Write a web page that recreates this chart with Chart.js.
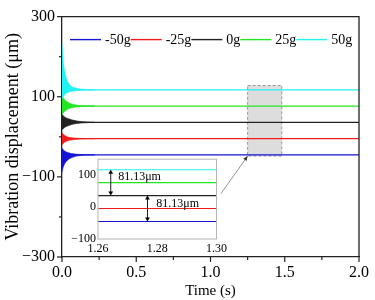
<!DOCTYPE html>
<html>
<head>
<meta charset="utf-8">
<script src="https://cdn.jsdelivr.net/npm/chart.js@4.4.1/dist/chart.umd.min.js"></script>
<style>
  html, body { margin: 0; padding: 0; background: #fff; }
  #wrap { position: relative; width: 375px; height: 300px; }
  #main { position: absolute; left: 0; top: 0; }
  #inset { position: absolute; left: 66px; top: 150px; }
</style>
</head>
<body>
<div id="wrap">
  <canvas id="main" width="375" height="300"></canvas>
  <canvas id="inset" width="164" height="108"></canvas>
</div>
<script>
// series
const labels = ['-50g', '-25g', '0g', '25g', '50g'];
const colors = ['#1414d2', '#f01c1c', '#222222', '#22e622', '#22f2f2'];
const steady = [-45.13, -4.57, 36.0, 76.57, 117.13];
const lineT = [0, 2.0];

// transient envelope (start-up oscillation)
const envT = [0, 0.005, 0.01, 0.02, 0.03, 0.045, 0.06, 0.08, 0.1, 0.13, 0.17, 0.22];
const upN50 = [-28, -31, -33, -36, -38, -40, -41.5, -42.5, -43.5, -44.2, -44.7, -45];
const loN50 = [-88, -80, -74, -66, -61, -56, -53, -50, -48, -46.5, -45.7, -45.3];
const upN25 = [10, 8, 6, 3, 1, -1, -2, -3, -3.6, -4, -4.3, -4.5];
const loN25 = [-20, -18, -16, -13, -11, -9, -8, -7, -6, -5.3, -4.9, -4.7];
const upZero = [56, 54, 52, 49, 47, 45, 43, 41, 39.5, 38, 37, 36.4];
const loZero = [18, 19, 21, 24, 26, 28, 30, 32, 33, 34.3, 35.2, 35.7];
const upP25 = [105, 100, 97, 92, 89, 85, 82.5, 80.5, 79, 78, 77.2, 76.8];
const loP25 = [55, 58, 60, 64, 67, 70, 72, 73.5, 74.5, 75.5, 76.1, 76.4];
const upP50 = [232, 205, 184, 160, 145, 133, 127, 123, 121, 119, 118, 117.3];
const loP50 = [95, 98, 101, 106, 109, 111.5, 113, 114.5, 115.5, 116.3, 116.8, 117.0];
const envUp = [upN50, upN25, upZero, upP25, upP50];
const envLo = [loN50, loN25, loZero, loP25, loP50];

// inset
const insetT = [1.26, 1.30];
const insetYTicks = [-100, 0, 100];
const gapText = '81.13\u03bcm';

const serif = '"Liberation Serif", "Times New Roman", serif';
const minus = s => String(s).replace('-', '\u2212');

const mainSets = [];
labels.forEach((name, i) => {
  const ord = 4 - i; // last series on top
  mainSets.push({ label: name, data: lineT.map(t => ({ x: t, y: steady[i] })),
    borderColor: colors[i], borderWidth: 1.4, pointRadius: 0, order: ord });
  mainSets.push({ label: name + ' up', data: envT.map((t, k) => ({ x: t, y: envUp[i][k] })),
    borderColor: colors[i], backgroundColor: colors[i], borderWidth: 0.6, pointRadius: 0,
    fill: '+1', order: ord, cubicInterpolationMode: 'monotone' });
  mainSets.push({ label: name + ' lo', data: envT.map((t, k) => ({ x: t, y: envLo[i][k] })),
    borderColor: colors[i], borderWidth: 0.6, pointRadius: 0,
    fill: false, order: ord, cubicInterpolationMode: 'monotone' });
});

function arrowHead(ctx, x, y, dir, size) {
  ctx.beginPath();
  ctx.moveTo(x, y);
  ctx.lineTo(x - size * 0.6, y - dir * size);
  ctx.lineTo(x + size * 0.6, y - dir * size);
  ctx.closePath();
  ctx.fill();
}

const mainDecor = {
  id: 'mainDecor',
  beforeDatasetsDraw(chart) {
    const { ctx, scales: { x, y } } = chart;
    // zoom window
    const x0 = x.getPixelForValue(1.25), x1 = x.getPixelForValue(1.48);
    const y0 = y.getPixelForValue(128), y1 = y.getPixelForValue(-48);
    ctx.save();
    ctx.fillStyle = '#dddddd';
    ctx.fillRect(x0, y0, x1 - x0, y1 - y0);
    ctx.setLineDash([3, 2]);
    ctx.strokeStyle = '#999';
    ctx.lineWidth = 1;
    ctx.strokeRect(x0, y0, x1 - x0, y1 - y0);
    ctx.restore();
  },
  afterDraw(chart) {
    const { ctx, chartArea: a, scales: { x, y } } = chart;
    ctx.save();
    // frame top / right
    ctx.strokeStyle = '#222';
    ctx.lineWidth = 1.3;
    ctx.beginPath();
    ctx.moveTo(a.left, a.top); ctx.lineTo(a.right, a.top); ctx.lineTo(a.right, a.bottom);
    ctx.stroke();
    // ticks, outward
    ctx.lineWidth = 1.2;
    for (let v = 0; v <= 2.0001; v += 0.25) {
      const px = x.getPixelForValue(v);
      const len = Math.abs(v * 2 - Math.round(v * 2)) < 1e-6 ? 5 : 3;
      ctx.beginPath(); ctx.moveTo(px, a.bottom); ctx.lineTo(px, a.bottom + len); ctx.stroke();
    }
    for (let v = -300; v <= 300; v += 100) {
      const py = y.getPixelForValue(v);
      const len = (v + 300) % 200 === 0 ? 5 : 3;
      ctx.beginPath(); ctx.moveTo(a.left, py); ctx.lineTo(a.left - len, py); ctx.stroke();
    }
    // connector from inset to zoom window
    const sx = x.getPixelForValue(1.07), sy = y.getPixelForValue(-142);
    const ex = x.getPixelForValue(1.25), ey = y.getPixelForValue(-48);
    ctx.strokeStyle = '#777';
    ctx.fillStyle = '#333';
    ctx.lineWidth = 0.8;
    ctx.beginPath(); ctx.moveTo(sx, sy); ctx.lineTo(ex, ey); ctx.stroke();
    const ang = Math.atan2(ey - sy, ex - sx);
    ctx.beginPath();
    ctx.moveTo(ex, ey);
    ctx.lineTo(ex - 5 * Math.cos(ang - 0.4), ey - 5 * Math.sin(ang - 0.4));
    ctx.lineTo(ex - 5 * Math.cos(ang + 0.4), ey - 5 * Math.sin(ang + 0.4));
    ctx.closePath(); ctx.fill();
    // legend inside plot
    ctx.font = '14px ' + serif;
    ctx.textBaseline = 'middle';
    let lx = a.left + 8;
    const ly = a.top + 23;
    labels.forEach((name, i) => {
      ctx.strokeStyle = colors[i];
      ctx.lineWidth = 1.4;
      ctx.beginPath(); ctx.moveTo(lx, ly); ctx.lineTo(lx + 31, ly); ctx.stroke();
      lx += 35;
      ctx.fillStyle = '#000';
      ctx.fillText(name, lx, ly + 1);
      lx += ctx.measureText(name).width;
    });
    ctx.restore();
  }
};

new Chart(document.getElementById('main'), {
  type: 'line',
  data: { datasets: mainSets },
  options: {
    responsive: false,
    animation: false,
    layout: { padding: { top: 15, right: 12, left: 0, bottom: 0 } },
    plugins: { legend: { display: false }, tooltip: { enabled: false } },
    scales: {
      x: {
        type: 'linear', min: 0, max: 2,
        grid: { display: false, drawTicks: false },
        border: { color: '#222', width: 1.3 },
        ticks: { stepSize: 0.5, padding: 6, color: '#000', font: { family: serif, size: 16 },
          maxRotation: 0, callback: v => v.toFixed(1) },
        title: { display: true, text: 'Time (s)', color: '#000', padding: 0,
          font: { family: serif, size: 15 } },
        afterFit: s => { s.height = 43; }
      },
      y: {
        min: -300, max: 300,
        grid: { display: false, drawTicks: false },
        border: { color: '#222', width: 1.3 },
        ticks: { stepSize: 200, padding: 7, color: '#000', font: { family: serif, size: 16 },
          callback: v => minus(v) },
        title: { display: true, text: 'Vibration displacement (\u03bcm)', color: '#000',
          padding: { top: 2, bottom: 0 }, font: { family: serif, size: 18 } },
        afterFit: s => { s.width = 62; }
      }
    }
  },
  plugins: [mainDecor]
});

// inset chart
const insetDecor = {
  id: 'insetDecor',
  beforeDraw(chart) {
    const { ctx, chartArea: a } = chart;
    ctx.save();
    ctx.fillStyle = '#fff';
    ctx.fillRect(a.left, a.top, a.right - a.left, a.bottom - a.top);
    ctx.restore();
  },
  afterDraw(chart) {
    const { ctx, chartArea: a, scales: { x, y } } = chart;
    ctx.save();
    ctx.strokeStyle = '#b4b4b4';
    ctx.lineWidth = 1;
    ctx.strokeRect(a.left, a.top, a.right - a.left, a.bottom - a.top);
    // gap arrows
    ctx.strokeStyle = '#000';
    ctx.fillStyle = '#000';
    ctx.lineWidth = 0.9;
    const arrows = [
      { t: 1.2643, from: steady[2], to: steady[4], tx: 1.2668, ty: 95 },
      { t: 1.2767, from: steady[2], to: steady[0], tx: 1.2797, ty: 11 }
    ];
    ctx.font = '12px ' + serif;
    ctx.textBaseline = 'middle';
    arrows.forEach(ar => {
      const px = x.getPixelForValue(ar.t);
      const p1 = y.getPixelForValue(ar.from), p2 = y.getPixelForValue(ar.to);
      const dir = p2 > p1 ? 1 : -1;
      ctx.beginPath(); ctx.moveTo(px, p1 + dir * 3); ctx.lineTo(px, p2 - dir * 3); ctx.stroke();
      arrowHead(ctx, px, p1, -dir, 4);
      arrowHead(ctx, px, p2, dir, 4);
      ctx.fillText(gapText, x.getPixelForValue(ar.tx), y.getPixelForValue(ar.ty));
    });
    ctx.restore();
  }
};

new Chart(document.getElementById('inset'), {
  type: 'line',
  data: {
    datasets: labels.map((name, i) => ({
      label: name, data: insetT.map(t => ({ x: t, y: steady[i] })),
      borderColor: colors[i], borderWidth: 1.1, pointRadius: 0
    }))
  },
  options: {
    responsive: false,
    animation: false,
    layout: { padding: { top: 8, right: 7, left: 0, bottom: 0 } },
    plugins: { legend: { display: false }, tooltip: { enabled: false } },
    scales: {
      x: {
        type: 'linear', min: 1.26, max: 1.30,
        grid: { display: false, drawTicks: false },
        border: { display: false },
        ticks: { stepSize: 0.02, padding: 3, color: '#000', font: { family: serif, size: 12 },
          maxRotation: 0, callback: v => v.toFixed(2) },
        afterFit: s => { s.height = 19; }
      },
      y: {
        min: -100, max: 150,
        grid: { display: false, drawTicks: false },
        border: { display: false },
        afterBuildTicks: s => { s.ticks = insetYTicks.map(v => ({ value: v })); },
        ticks: { padding: 2, color: '#000', font: { family: serif, size: 12 },
          callback: v => minus(v) },
        afterFit: s => { s.width = 32; }
      }
    }
  },
  plugins: [insetDecor]
});
</script>
</body>
</html>
